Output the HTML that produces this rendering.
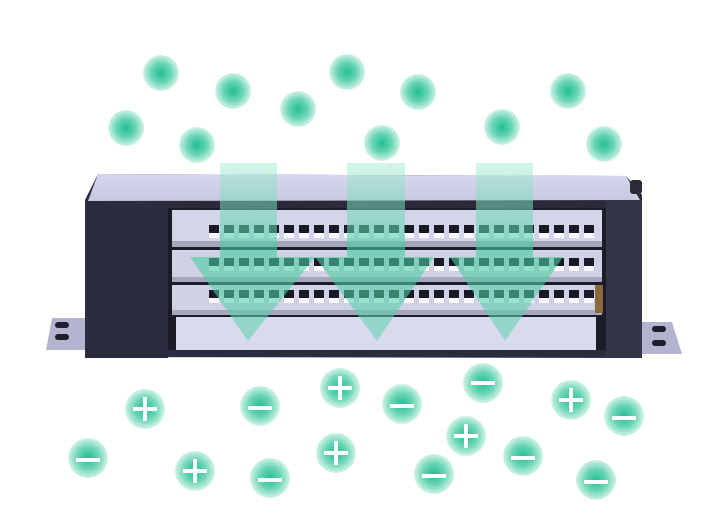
<!DOCTYPE html>
<html><head><meta charset="utf-8"><style>
html,body{margin:0;padding:0;background:#fff;}
svg{display:block;}
</style></head><body>
<svg width="712" height="520" viewBox="0 0 712 520" xmlns="http://www.w3.org/2000/svg">
<defs>
<radialGradient id="p" cx="50%" cy="50%" r="50%">
<stop offset="0" stop-color="#22bf92"/>
<stop offset="0.55" stop-color="#6cd5b5"/>
<stop offset="1" stop-color="#d2f3e9"/>
</radialGradient>
<linearGradient id="ar" x1="0" y1="0" x2="0" y2="1">
<stop offset="0" stop-color="#a8ead5" stop-opacity="0.5"/>
<stop offset="0.5" stop-color="#45cc9f" stop-opacity="0.6"/>
<stop offset="1" stop-color="#5fd4ad" stop-opacity="0.55"/>
</linearGradient>
<linearGradient id="top" x1="0" y1="0" x2="0" y2="1">
<stop offset="0" stop-color="#d6d6ee"/>
<stop offset="1" stop-color="#c8c8e2"/>
</linearGradient>
<pattern id="s1" x="207" y="225" width="15" height="13" patternUnits="userSpaceOnUse">
<rect x="2" y="0" width="10" height="8" fill="#1a1a26"/><rect x="2" y="8" width="10" height="5" fill="#fafaff"/>
</pattern>
<pattern id="s2" x="207" y="258" width="15" height="13" patternUnits="userSpaceOnUse">
<rect x="2" y="0" width="10" height="8" fill="#1a1a26"/><rect x="2" y="8" width="10" height="5" fill="#fafaff"/>
</pattern>
<pattern id="s3" x="207" y="290" width="15" height="13" patternUnits="userSpaceOnUse">
<rect x="2" y="0" width="10" height="8" fill="#1a1a26"/><rect x="2" y="8" width="10" height="5" fill="#fafaff"/>
</pattern>
</defs>

<g fill="url(#p)">
<circle cx="161" cy="73" r="18"/><circle cx="233" cy="91" r="18"/><circle cx="126" cy="128" r="18"/>
<circle cx="197" cy="145" r="18"/><circle cx="298" cy="109" r="18"/><circle cx="347" cy="72" r="18"/>
<circle cx="418" cy="92" r="18"/><circle cx="382" cy="143" r="18"/><circle cx="502" cy="127" r="18"/>
<circle cx="568" cy="91" r="18"/><circle cx="604" cy="144" r="18"/>
</g>

<path d="M52 318 L88 318 L88 350 L46 350 Z" fill="#b3b4d0"/>
<rect x="55" y="322" width="14" height="6" rx="3" fill="#1e1e2e"/>
<rect x="55" y="334" width="14" height="6" rx="3" fill="#1e1e2e"/>
<path d="M640 322 L672 322 L682 354 L640 354 Z" fill="#b3b4d0"/>
<rect x="652" y="326" width="14" height="6" rx="3" fill="#1e1e2e"/>
<rect x="652" y="340" width="14" height="6" rx="3" fill="#1e1e2e"/>

<path d="M98 174 L626 176 L642 195 L642 358 L85 357 L85 200 Z" fill="#2c2c40"/>
<path d="M98 174 L626 176 L640 200 L88 201 Z" fill="url(#top)"/>
<rect x="168" y="201" width="440" height="7" fill="#2a2a3a"/>
<rect x="168" y="208" width="438" height="142" fill="#1c1c28"/>
<rect x="172" y="210" width="430" height="36" fill="#d4d4ea"/>
<rect x="172" y="241" width="430" height="6" fill="#a6a6bc"/>
<rect x="172" y="250" width="430" height="32" fill="#d0d0e6"/>
<rect x="172" y="277" width="430" height="5" fill="#a6a6bc"/>
<rect x="172" y="285" width="430" height="30" fill="#d0d0e6"/>
<rect x="172" y="310" width="430" height="5" fill="#a6a6bc"/>
<rect x="176" y="317" width="420" height="33" fill="#dadaee"/>
<rect x="207" y="225" width="390" height="13" fill="url(#s1)"/>
<rect x="207" y="258" width="390" height="13" fill="url(#s2)"/>
<rect x="207" y="290" width="390" height="13" fill="url(#s3)"/>
<rect x="595" y="285" width="8" height="28" fill="#8a6a3a"/>
<rect x="85" y="202" width="83" height="156" fill="#2c2c40"/>
<rect x="606" y="200" width="36" height="158" fill="#34344a"/>
<rect x="630" y="180" width="12" height="14" rx="3" fill="#2a2a38"/>

<g fill="url(#ar)">
<path d="M220 163 L277 163 L277 257 L315 257 L248 341 L190 257 L220 257 Z"/>
<path d="M347 163 L405 163 L405 257 L434 257 L377 341 L315 257 L347 257 Z"/>
<path d="M476 163 L533 163 L533 257 L563 257 L505 341 L450 257 L476 257 Z"/>
</g>

<g fill="url(#p)">
<circle cx="145" cy="409" r="20"/><circle cx="195" cy="471" r="20"/><circle cx="340" cy="388" r="20"/>
<circle cx="336" cy="453" r="20"/><circle cx="466" cy="436" r="20"/><circle cx="571" cy="400" r="20"/>
<circle cx="88" cy="458" r="20"/><circle cx="260" cy="406" r="20"/><circle cx="270" cy="478" r="20"/>
<circle cx="402" cy="404" r="20"/><circle cx="483" cy="383" r="20"/><circle cx="434" cy="474" r="20"/>
<circle cx="523" cy="456" r="20"/><circle cx="624" cy="416" r="20"/><circle cx="596" cy="480" r="20"/>
</g>
<g stroke="#fff" stroke-width="4" fill="none">
<path d="M133 409h24M145 397v24"/><path d="M183 471h24M195 459v24"/><path d="M328 388h24M340 376v24"/>
<path d="M324 453h24M336 441v24"/><path d="M454 436h24M466 424v24"/><path d="M559 400h24M571 388v24"/>
<path d="M76 460h24"/><path d="M248 408h24"/><path d="M258 480h24"/><path d="M390 406h24"/>
<path d="M471 383h24"/><path d="M422 476h24"/><path d="M511 458h24"/><path d="M612 418h24"/><path d="M584 482h24"/>
</g>
</svg>
</body></html>
